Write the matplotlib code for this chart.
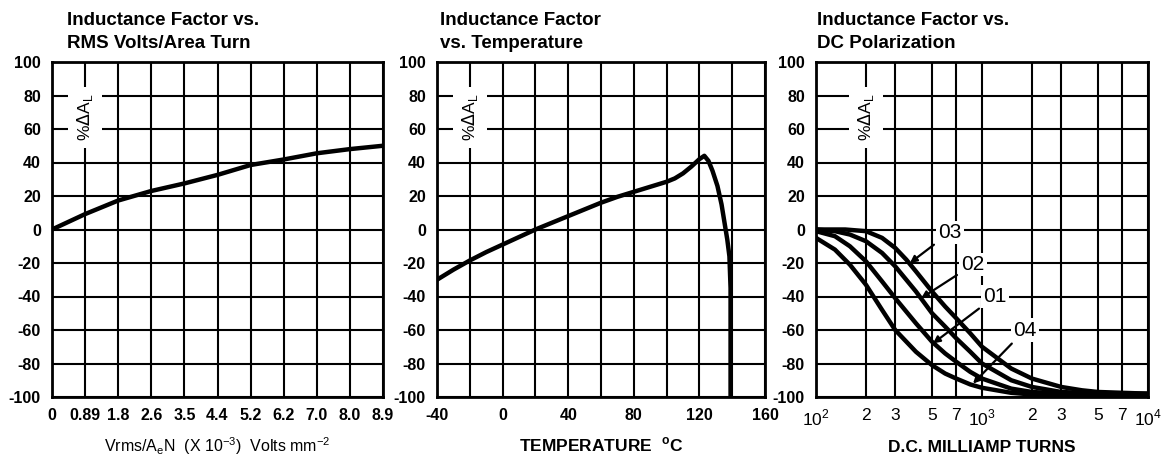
import numpy as np
import matplotlib
matplotlib.use("Agg")
import matplotlib.pyplot as plt

plt.rcParams['font.family'] = ['Liberation Sans', 'DejaVu Sans']

# panel 1: inductance factor vs RMS volts/area turn (read at each grid column)
volts_labels = ['0', '0.89', '1.8', '2.6', '3.5', '4.4', '5.2', '6.2', '7.0', '8.0', '8.9']
volts_pos = [0, 1, 2, 3, 4, 5, 6, 7, 8, 9, 10]
volts_dal = [0, 9.2, 17.3, 23, 27.5, 32.6, 38.5, 41.8, 45.5, 48, 50]

# panel 2: inductance factor vs temperature
temp_c = [-40, -30, -20, -10, 0, 10, 20, 30, 40, 50, 60, 70, 80, 90, 100, 105, 110, 115,
          120, 123, 125.5, 128, 131, 133.5, 135.5, 137, 138.3, 139, 139]
temp_dal = [-30, -24, -18.5, -13.5, -9, -4.5, 0, 4, 8, 12, 16, 19.5, 22.5, 25.5, 28.5, 30.5,
            33.5, 37.5, 42, 44, 41, 35, 26, 15, 3, -6, -16, -35, -100]

# panel 3: inductance factor vs DC polarization
dc_03_x = [100, 150, 200, 250, 300, 350, 400, 500, 600, 700, 850, 1000, 1500, 2000, 3000, 4000, 5000, 7000, 10000]
dc_03_y = [0, 0, -1, -5, -11, -18, -25, -37, -46, -53, -62, -70, -83, -89, -94, -96, -97, -97.5, -98]
dc_02_x = [100, 130, 160, 200, 250, 300, 400, 500, 600, 700, 850, 1000, 1500, 2000, 3000, 5000, 10000]
dc_02_y = [0, -1, -3, -7, -14, -22, -37, -50, -58, -65, -73, -80, -90, -94, -97, -98, -98]
dc_01_x = [100, 130, 160, 200, 250, 300, 400, 500, 600, 700, 850, 1000, 1500, 2000, 3000, 10000]
dc_01_y = [-1, -4, -10, -19, -31, -41, -56, -67, -74, -79, -85, -89, -95, -97, -98, -98.5]
dc_04_x = [100, 130, 160, 200, 250, 300, 400, 500, 600, 700, 850, 1000, 1500, 2000, 3000, 10000]
dc_04_y = [-5, -12, -21, -33, -48, -60, -73, -81, -86, -89, -92.5, -94.5, -97.5, -98.5, -99, -99]

y_ticks = [100, 80, 60, 40, 20, 0, -20, -40, -60, -80, -100]
y_labels = ['100', '80', '60', '40', '20', '0', '-20', '-40', '-60', '-80', '-100']

fig = plt.figure(figsize=(11.72, 4.62), dpi=100)
W, H = 1172, 462
bottom = 1 - 397 / H
height = (397 - 62) / H
ax1 = fig.add_axes([52 / W, bottom, 331 / W, height])
ax2 = fig.add_axes([437 / W, bottom, 328 / W, height])
ax3 = fig.add_axes([816 / W, bottom, 332 / W, height])

line_kw = dict(color='black', lw=3.2, solid_capstyle='round', solid_joinstyle='round', zorder=3)
tick_font = dict(fontsize=11.5, fontweight='bold')
dal_label = '%$\\Delta$A$_\\mathregular{L}$'
dal_box = dict(facecolor='white', edgecolor='none', pad=5)


def style(ax, title, title_x):
    ax.set_ylim(-100, 100)
    ax.set_yticks(y_ticks)
    ax.set_yticklabels(y_labels, **tick_font)
    ax.grid(True, color='black', lw=1.5, zorder=1)
    ax.tick_params(length=0, pad=8)
    for s in ax.spines.values():
        s.set_linewidth(2)
    ax.set_axisbelow(True)
    fig.text(title_x / W, 1 - 12 / H, title, fontsize=13.5, fontweight='bold',
             ha='left', va='top', linespacing=1.45)


# panel 1
ax1.plot(volts_pos, volts_dal, **line_kw)
ax1.set_xlim(0, 10)
ax1.set_xticks(volts_pos)
ax1.set_xticklabels(volts_labels, **tick_font)
style(ax1, 'Inductance Factor vs.\nRMS Volts/Area Turn', 67)
ax1.set_xlabel('Vrms/A$_\\mathregular{e}$N  (X 10$^\\mathregular{-3}$)  Volts mm$^\\mathregular{-2}$',
               fontsize=11.5, labelpad=9)
ax1.text(1, 67, dal_label, rotation=90, ha='center', va='center', fontsize=12.5,
         bbox=dal_box, zorder=2)

# panel 2
ax2.plot(temp_c, temp_dal, **line_kw)
ax2.set_xlim(-40, 160)
ax2.set_xticks(np.arange(-40, 161, 20))
ax2.set_xticklabels([str(t) if t % 40 == 0 else '' for t in range(-40, 161, 20)], **tick_font)
style(ax2, 'Inductance Factor\nvs. Temperature', 440)
ax2.set_xlabel('TEMPERATURE  $^\\mathregular{o}$C', fontsize=12.5, fontweight='bold', labelpad=9)
ax2.text(-20, 67, dal_label, rotation=90, ha='center', va='center', fontsize=12.5,
         bbox=dal_box, zorder=2)

# panel 3
for xs, ys in [(dc_03_x, dc_03_y), (dc_02_x, dc_02_y), (dc_01_x, dc_01_y), (dc_04_x, dc_04_y)]:
    ax3.plot(xs, ys, **line_kw)
ax3.set_xscale('log')
ax3.set_xlim(100, 10000)
dc_ticks = [100, 200, 300, 500, 700, 1000, 2000, 3000, 5000, 7000, 10000]
dc_labels = ['10$^\\mathregular{2}$', '2', '3', '5', '7', '10$^\\mathregular{3}$',
             '2', '3', '5', '7', '10$^\\mathregular{4}$']
ax3.set_xticks(dc_ticks)
ax3.minorticks_off()
style(ax3, 'Inductance Factor vs.\nDC Polarization', 817)
ax3.set_xticklabels(dc_labels, fontsize=12.5)
ax3.set_xlabel('D.C. MILLIAMP TURNS', fontsize=12.5, fontweight='bold', labelpad=8)
ax3.text(200, 67, dal_label, rotation=90, ha='center', va='center', fontsize=12.5,
         bbox=dal_box, zorder=2)

arrow_kw = dict(arrowstyle='-|>', color='black', lw=1.6, mutation_scale=10, shrinkA=2, shrinkB=0)
box = dict(facecolor='white', edgecolor='none', pad=1.5)
for lab, txy, pxy in [('03', (641, -1.8), (368, -20)),
                      ('02', (883, -21), (430, -41)),
                      ('01', (1197, -40), (507, -68)),
                      ('04', (1815, -60), (883, -92))]:
    ax3.annotate(lab, xy=pxy, xytext=txy, fontsize=15, ha='center', va='center',
                 bbox=box, arrowprops=arrow_kw, zorder=4)

fig.savefig('out.png', dpi=100)
